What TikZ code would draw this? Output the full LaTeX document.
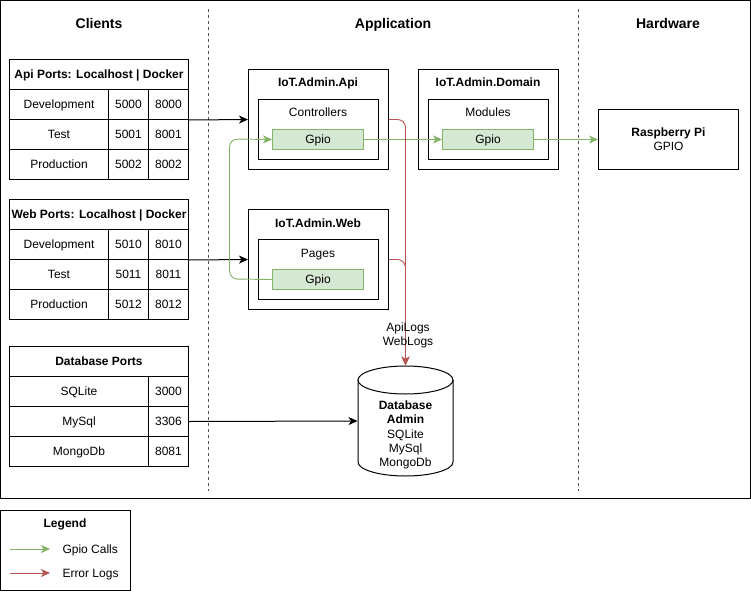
\documentclass[tikz,border=0pt]{standalone}
\usepackage{fontspec}
\setmainfont{Liberation Sans}
\usetikzlibrary{arrows.meta}
\definecolor{gpioline}{HTML}{82B366}
\definecolor{gpiofill}{HTML}{D5E8D4}
\definecolor{errline}{HTML}{B85450}
\definecolor{sepline}{HTML}{555555}
\begin{document}
\begin{tikzpicture}[x=1pt,y=-1pt,line width=1pt,
  every node/.style={font=\fontsize{12}{14}\selectfont, inner sep=0pt,
                     text height=8.6pt, text depth=0.6pt},
  multiline/.style={align=center, text height={}, text depth={}},
  cell/.style={draw, anchor=north west, minimum height=30pt},
  namecell/.style={cell, minimum width=99pt},
  portcell/.style={cell, minimum width=40pt},
  headcell/.style={cell, minimum width=179pt, font=\bfseries\fontsize{12}{14}\selectfont},
  outerbox/.style={draw, anchor=north west, minimum width=140pt, minimum height=100pt},
  innerbox/.style={draw, anchor=north west, minimum width=120pt, minimum height=60pt},
  gpiobox/.style={draw=gpioline, fill=gpiofill, anchor=north west, minimum width=91pt, minimum height=20pt},
  boxtitle/.style={font=\bfseries\fontsize{12}{14}\selectfont},
  heading/.style={font=\bfseries\fontsize{14}{16}\selectfont, text height=10pt, text depth=0.6pt},
  tip/.style={-{Stealth[length=9pt,width=8pt,inset=2.5pt]}},
  gpiolink/.style={tip, draw=gpioline, line width=0.9pt},
  errlink/.style={tip, draw=errline, line width=0.9pt, rounded corners=8pt},
  zone/.style={draw=sepline, line width=1pt, dash pattern=on 3pt off 3pt}
]
\useasboundingbox (0,0) rectangle (751,591);

% outer frame and zone separators
\draw (0.5,0.5) rectangle (750.5,498.5);
\draw[zone] (208.5,9) -- (208.5,491);
\draw[zone] (578.5,9) -- (578.5,491);

\node[heading] (hclients) at (99,24) {Clients};
\node[heading] (happ) at (393,24) {Application};
\node[heading] (hhw) at (668,24) {Hardware};

% Api ports table
\node[headcell] (apih) at (9,59) {Api Ports: Localhost | Docker};
\node[namecell] (apidev) at (9,89) {Development};
\node[portcell] (apidevl) at (108,89) {5000};
\node[portcell] (apidevd) at (148,89) {8000};
\node[namecell] (apitest) at (9,119) {Test};
\node[portcell] (apitestl) at (108,119) {5001};
\node[portcell] (apitestd) at (148,119) {8001};
\node[namecell] (apiprod) at (9,149) {Production};
\node[portcell] (apiprodl) at (108,149) {5002};
\node[portcell] (apiprodd) at (148,149) {8002};

% Web ports table
\node[headcell] (webh) at (9,199) {Web Ports: Localhost | Docker};
\node[namecell] (webdev) at (9,229) {Development};
\node[portcell] (webdevl) at (108,229) {5010};
\node[portcell] (webdevd) at (148,229) {8010};
\node[namecell] (webtest) at (9,259) {Test};
\node[portcell] (webtestl) at (108,259) {5011};
\node[portcell] (webtestd) at (148,259) {8011};
\node[namecell] (webprod) at (9,289) {Production};
\node[portcell] (webprodl) at (108,289) {5012};
\node[portcell] (webprodd) at (148,289) {8012};

% Database ports table
\node[headcell] (dbh) at (9,346) {Database Ports};
\node[cell, minimum width=139pt] (dbsqlite) at (9,376) {SQLite};
\node[portcell] (dbsqlitep) at (148,376) {3000};
\node[cell, minimum width=139pt] (dbmysql) at (9,406) {MySql};
\node[portcell] (dbmysqlp) at (148,406) {3306};
\node[cell, minimum width=139pt] (dbmongo) at (9,436) {MongoDb};
\node[portcell] (dbmongop) at (148,436) {8081};

% IoT.Admin.Api
\node[outerbox] (api) at (248,69) {};
\node[boxtitle] (apit) at (318,83) {IoT.Admin.Api};
\node[innerbox] (apictl) at (258,99) {};
\node (apictlt) at (318,113) {Controllers};
\node[gpiobox] (apigpio) at (272,129) {Gpio};

% IoT.Admin.Domain
\node[outerbox] (dom) at (418,69) {};
\node[boxtitle] (domt) at (488,83) {IoT.Admin.Domain};
\node[innerbox] (dommod) at (428,99) {};
\node (dommodt) at (488,113) {Modules};
\node[gpiobox] (domgpio) at (442,129) {Gpio};

% IoT.Admin.Web
\node[outerbox] (web) at (248,209) {};
\node[boxtitle] (webt) at (318,223) {IoT.Admin.Web};
\node[innerbox] (webpg) at (258,239) {};
\node (webpgt) at (318,253) {Pages};
\node[gpiobox] (webgpio) at (272,269) {Gpio};

% Raspberry Pi
\node[draw, anchor=north west, minimum width=140pt, minimum height=60pt,
      multiline] (rpi) at (598,109) {\textbf{Raspberry Pi}\\GPIO};

% Database cylinder
\draw (405.5,380) ellipse [x radius=47.5, y radius=14];
\draw (358,380) -- (358,462) arc[start angle=180, end angle=0, x radius=47.5, y radius=14] -- (453,380);
\node[minimum width=95pt, minimum height=110pt] (db) at (405.5,421) {};
\node[multiline, font=\fontsize{12}{14.3}\selectfont] (dbt) at (405.5,435)
  {\textbf{Database}\\\textbf{Admin}\\SQLite\\MySql\\MongoDb};

% client connections
\draw[tip] (apidevd.south east) -- (api.west);
\draw[tip] (webdevd.south east) -- (web.west);
\draw[tip] (dbmysqlp.east) -- (db.west);

% gpio calls
\draw[gpiolink] (apigpio.east) -- (domgpio.west);
\draw[gpiolink] (domgpio.east) -- (rpi.west);
\draw[gpiolink, rounded corners=8pt] (webgpio.west) -- (229.5,279) -- (229.5,139) -- (apigpio.west);

% error logs
\coordinate (logx) at (405.5,0);
\draw[errlink] (api.east) -- (api.east -| logx) -- (db.north);
\draw[errlink] (web.east) -- (web.east -| logx) -- (db.north);
\node[multiline] (logs) at (408,335) {ApiLogs\\WebLogs};

% legend
\draw (0.5,510.5) rectangle (130.5,590.5);
\node[boxtitle] (legt) at (65,523) {Legend};
\coordinate (lg1) at (10,549);
\node[anchor=west] (lgg) at (62,549) {Gpio Calls};
\coordinate (lg2) at (10,573);
\node[anchor=west] (lgr) at (62,573) {Error Logs};
\draw[gpiolink] (lg1) -- ++(40,0);
\draw[errlink] (lg2) -- ++(40,0);
\end{tikzpicture}
\end{document}
